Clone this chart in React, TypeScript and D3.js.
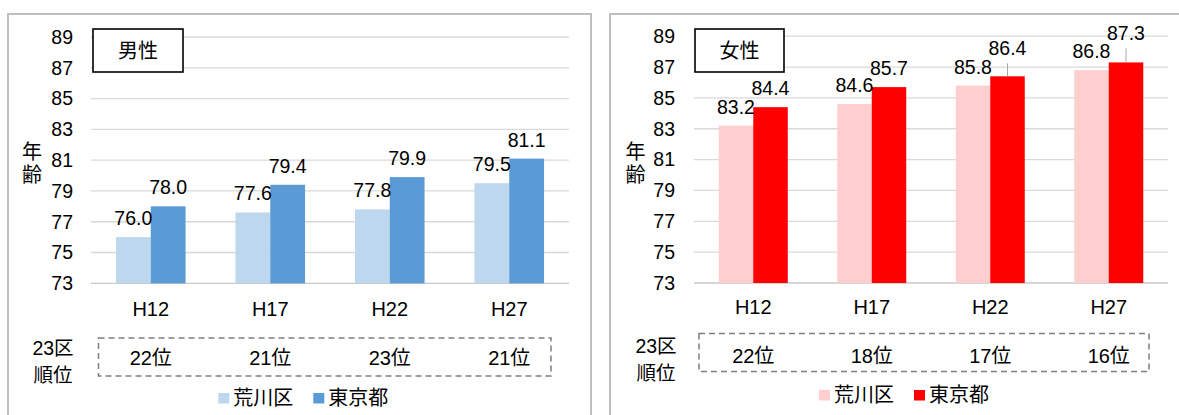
import React from "react";
import * as d3 from "d3";

const categories = ["H12", "H17", "H22", "H27"];
const seriesNames = ["荒川区", "東京都"];
const maleArakawa = [76.0, 77.6, 77.8, 79.5];
const maleTokyo = [78.0, 79.4, 79.9, 81.1];
const femaleArakawa = [83.2, 84.6, 85.8, 86.8];
const femaleTokyo = [84.4, 85.7, 86.4, 87.3];
const maleRank = ["22位", "21位", "23位", "21位"];
const femaleRank = ["22位", "18位", "17位", "16位"];
const yTicks = [73, 75, 77, 79, 81, 83, 85, 87, 89];
const titles = ["男性", "女性"];

const FONT = "'Liberation Sans', Arial, 'Noto Sans CJK JP', sans-serif";

type Panel = {
  title: string;
  series: number[][];
  ranks: string[];
  colors: string[];
  frameX: number;
  frameW: number;
  plotX0: number;
  plotX1: number;
  yTop: number;
  yBottom: number;
  tickX: number;
  titleBox: [number, number, number, number];
  yTitleX: number;
  catBaseline: number;
  rankTitleX: number;
  rankTitleY: number;
  rankBox: [number, number, number, number];
  rankBaseline: number;
  legendX: number;
  legendY: number;
  lifts: number[][];
};

const panels: Panel[] = [
  {
    title: titles[0],
    series: [maleArakawa, maleTokyo],
    ranks: maleRank,
    colors: ["#BDD7EE", "#5B9BD5"],
    frameX: 8,
    frameW: 583,
    plotX0: 91,
    plotX1: 569,
    yTop: 37,
    yBottom: 283.3,
    tickX: 73,
    titleBox: [93, 29, 90, 43],
    yTitleX: 32,
    catBaseline: 315.5,
    rankTitleX: 53,
    rankTitleY: 355,
    rankBox: [98.5, 338, 452.5, 38],
    rankBaseline: 364.5,
    legendX: 218.3,
    legendY: 393,
    lifts: [[0, 0, 0, 0], [0, 0, 0, 0]],
  },
  {
    title: titles[1],
    series: [femaleArakawa, femaleTokyo],
    ranks: femaleRank,
    colors: ["#FFCFCF", "#FF0000"],
    frameX: 610,
    frameW: 600,
    plotX0: 694,
    plotX1: 1168,
    yTop: 36.2,
    yBottom: 283,
    tickX: 675,
    titleBox: [695, 29, 89, 43],
    yTitleX: 635.5,
    catBaseline: 314,
    rankTitleX: 656,
    rankTitleY: 353,
    rankBox: [699, 333.5, 450, 38],
    rankBaseline: 362.7,
    legendX: 819,
    legendY: 390,
    lifts: [[0, 0, 0, 0], [0, 0, 9, 10]],
  },
];

function ChartPanel({ p }: { p: Panel }) {
  const y = d3.scaleLinear().domain([73, 89]).range([p.yBottom, p.yTop]);
  const x = d3.scaleBand<string>().domain(categories).range([p.plotX0, p.plotX1]).padding(0);
  const xs = d3
    .scaleBand<string>()
    .domain(seriesNames)
    .range([0, x.bandwidth()])
    .paddingInner(0)
    .paddingOuter(0.717);
  const [bx, by, bw, bh] = p.titleBox;
  const [rx, ry, rw, rh] = p.rankBox;
  const legendStep = 95;
  return (
    <g>
      <rect x={p.frameX} y={14} width={p.frameW} height={430} fill="#fff" stroke="#BFBFBF" strokeWidth={2} />
      {yTicks.map((t) => (
        <line
          key={"g" + t}
          x1={p.plotX0}
          x2={p.plotX1}
          y1={y(t)}
          y2={y(t)}
          stroke={t === 73 ? "#C8C8C8" : "#D9D9D9"}
          strokeWidth={1.3}
        />
      ))}
      {yTicks.map((t) => (
        <text key={"t" + t} x={p.tickX} y={y(t)} dy="0.35em" textAnchor="end" fontSize={19.5} fill="#000">
          {t}
        </text>
      ))}
      {p.series.map((vals, si) =>
        vals.map((v, ci) => {
          const cx = (x(categories[ci]) as number) + (xs(seriesNames[si]) as number);
          return (
            <rect
              key={"b" + si + ci}
              x={cx}
              y={y(v)}
              width={xs.bandwidth()}
              height={y(73) - y(v)}
              fill={p.colors[si]}
            />
          );
        })
      )}
      {p.series.map((vals, si) =>
        vals.map((v, ci) => {
          const cx = (x(categories[ci]) as number) + (xs(seriesNames[si]) as number) + xs.bandwidth() / 2;
          const lift = p.lifts[si][ci];
          const base = y(v) - 12 - lift;
          return (
            <g key={"l" + si + ci}>
              {lift > 0 && (
                <line x1={cx} x2={cx} y1={base + 8} y2={y(v)} stroke="#A6A6A6" strokeWidth={1} />
              )}
              <text x={cx} y={base} textAnchor="middle" fontSize={19.5} fill="#000">
                {v.toFixed(1)}
              </text>
            </g>
          );
        })
      )}
      {categories.map((c) => (
        <text
          key={"c" + c}
          x={(x(c) as number) + x.bandwidth() / 2}
          y={p.catBaseline}
          textAnchor="middle"
          fontSize={20}
          fill="#000"
        >
          {c}
        </text>
      ))}
      <rect x={bx} y={by} width={bw} height={bh} fill="#fff" stroke="#000" strokeWidth={1.6} />
      <text x={bx + bw / 2} y={by + bh / 2} dy="0.36em" textAnchor="middle" fontSize={20} fill="#000">
        {p.title}
      </text>
      <text x={p.yTitleX} y={151.5} dy="0.36em" textAnchor="middle" fontSize={20} fill="#000">
        年
      </text>
      <text x={p.yTitleX} y={175} dy="0.36em" textAnchor="middle" fontSize={20} fill="#000">
        齢
      </text>
      <text x={p.rankTitleX} y={p.rankTitleY} textAnchor="middle" fontSize={19.5} fill="#000">
        23区
      </text>
      <text x={p.rankTitleX} y={p.rankTitleY + 26.5} textAnchor="middle" fontSize={19.5} fill="#000">
        順位
      </text>
      <rect
        x={rx}
        y={ry}
        width={rw}
        height={rh}
        fill="none"
        stroke="#7F7F7F"
        strokeWidth={1.5}
        strokeDasharray="6,4"
      />
      {p.ranks.map((r, i) => (
        <text
          key={"r" + i}
          x={(x(categories[i]) as number) + x.bandwidth() / 2}
          y={p.rankBaseline}
          textAnchor="middle"
          fontSize={20}
          fill="#000"
        >
          {r}
        </text>
      ))}
      {seriesNames.map((s, i) => (
        <g key={"lg" + s}>
          <rect x={p.legendX + i * legendStep} y={p.legendY} width={11} height={10.5} fill={p.colors[i]} />
          <text x={p.legendX + i * legendStep + 15} y={p.legendY + 11.5} fontSize={20} fill="#000">
            {s}
          </text>
        </g>
      ))}
    </g>
  );
}

export default function App() {
  return (
    <svg
      width={1179}
      height={415}
      style={{ position: "fixed", left: 0, top: 0, display: "block", background: "#fff" }}
      fontFamily={FONT}
    >
      <rect x={0} y={0} width={1179} height={415} fill="#fff" />
      {panels.map((p, i) => (
        <ChartPanel key={i} p={p} />
      ))}
    </svg>
  );
}
